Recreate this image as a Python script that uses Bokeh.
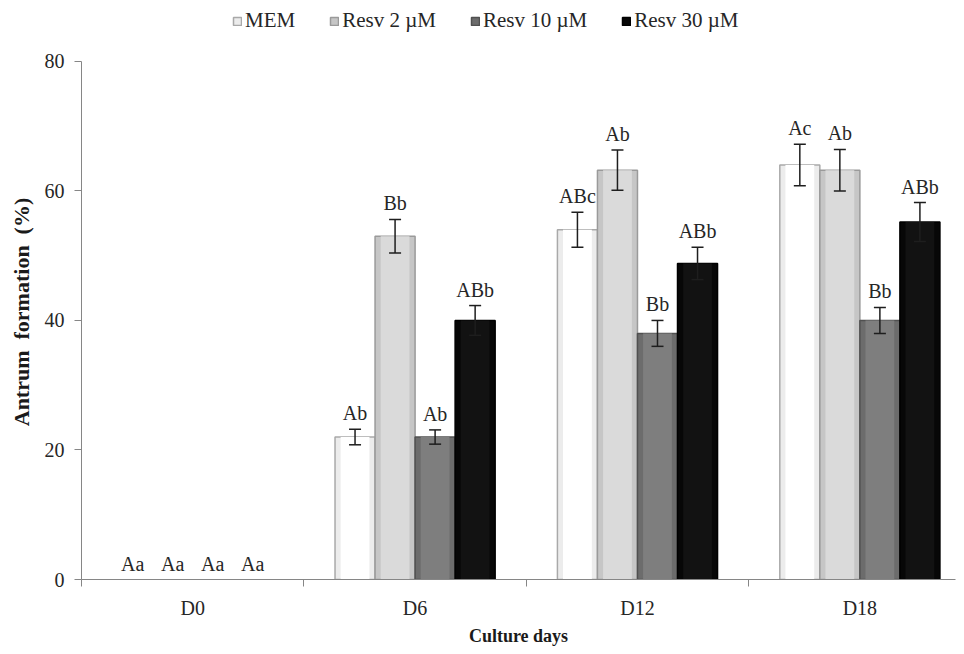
from bokeh.plotting import figure
from bokeh.models import (ColumnDataSource, Whisker, TeeHead, FixedTicker,
                          Legend, LegendItem, Range1d)
from bokeh.embed import file_html
from bokeh.resources import INLINE
from bokeh.core.properties import value

# ---------------- data ----------------
days = ["D0", "D6", "D12", "D18"]
series = ["MEM", "Resv 2 µM", "Resv 10 µM", "Resv 30 µM"]

mem = [0, 22.0, 54.0, 64.0]
resv2 = [0, 53.0, 63.2, 63.2]
resv10 = [0, 22.0, 38.0, 40.0]
resv30 = [0, 40.0, 48.8, 55.2]

mem_err = [0, 1.2, 2.7, 3.2]
resv2_err = [0, 2.6, 3.1, 3.2]
resv10_err = [0, 1.1, 2.0, 2.0]
resv30_err = [0, 2.3, 2.5, 3.0]

mem_lab = ["Aa", "Ab", "ABc", "Ac"]
resv2_lab = ["Aa", "Bb", "Ab", "Ab"]
resv10_lab = ["Aa", "Ab", "Bb", "Bb"]
resv30_lab = ["Aa", "ABb", "ABb", "ABb"]

y_ticks = [0, 20, 40, 60, 80]

values = [mem, resv2, resv10, resv30]
errors = [mem_err, resv2_err, resv10_err, resv30_err]
letters = [mem_lab, resv2_lab, resv10_lab, resv30_lab]

# ---------------- styles ----------------
SERIF = "Liberation Serif"
offsets = [-0.27, -0.09, 0.09, 0.27]
bar_w = 0.18
shades = [  # edge, body, centre
    ("#a9a9a9", "#ececec", "#ffffff"),
    ("#9a9a9a", "#c6c6c6", "#dadada"),
    ("#505050", "#6c6c6c", "#7e7e7e"),
    ("#000000", "#070707", "#121212"),
]

# frame spans the full canvas height above the x axis; the y axis line is
# bounded to 0..80 so the space above 80 holds the legend
p = figure(width=956, height=648, output_backend="svg", toolbar_location=None,
           x_range=Range1d(0, 3.93), y_range=Range1d(0, 80 * 580 / 519),
           min_border_left=81, min_border_right=1, min_border_top=0,
           min_border_bottom=68)
p.outline_line_color = None
p.xgrid.visible = False
p.ygrid.visible = False
p.background_fill_color = "white"

centers = [i + 0.5 for i in range(len(days))]
legend_items = []
for k, name in enumerate(series):
    xs = [c + offsets[k] for c in centers]
    src = ColumnDataSource(dict(
        x=xs, top=values[k], err=errors[k],
        upper=[v + e for v, e in zip(values[k], errors[k])],
        lower=[v - e for v, e in zip(values[k], errors[k])],
        lab=letters[k],
        edge_alpha=[1.0 if v > 0 else 0.0 for v in values[k]],
    ))
    edge, body, centre = shades[k]
    r = p.vbar(x="x", top="top", bottom=0, width=bar_w, source=src,
               fill_color=body, line_color=edge, line_width=1.5,
               line_alpha="edge_alpha")
    p.vbar(x="x", top="top", bottom=0, width=bar_w * 0.72, source=src,
           fill_color=centre, line_color=None)
    # legend swatch drawn from a non-zero row so its outline shows
    legend_items.append(LegendItem(label=name, renderers=[r], index=1))

    # error bars (only where an error exists)
    idx = [i for i, e in enumerate(errors[k]) if e > 0]
    esrc = ColumnDataSource(dict(
        x=[xs[i] for i in idx],
        upper=[values[k][i] + errors[k][i] for i in idx],
        lower=[values[k][i] - errors[k][i] for i in idx],
    ))
    w = Whisker(base="x", upper="upper", lower="lower", source=esrc,
                line_color="#1e1e1e", line_width=1.5, level="overlay",
                upper_head=TeeHead(size=12, line_color="#1e1e1e", line_width=1.5),
                lower_head=TeeHead(size=12, line_color="#1e1e1e", line_width=1.5))
    p.add_layout(w)

    # significance letters
    p.text(x="x", y="upper", text="lab", source=src,
           text_align="center", text_baseline="bottom", y_offset=-5,
           text_font=value(SERIF), text_font_size="20px", text_color="#262626")

# ---------------- axes ----------------
xa = p.xaxis[0]
xa.ticker = FixedTicker(ticks=centers, minor_ticks=[0, 1, 2, 3])
xa.major_label_overrides = {c: d for c, d in zip(centers, days)}
xa.major_tick_out = 0
xa.major_tick_in = 0
xa.minor_tick_out = 7
xa.minor_tick_in = 0
xa.minor_tick_line_color = "#868686"
xa.axis_line_color = "#868686"
xa.major_label_text_font = SERIF
xa.major_label_text_font_size = "20px"
xa.major_label_text_color = "#262626"
xa.major_label_standoff = 10
xa.axis_label = "Culture days"
xa.axis_label_text_font = SERIF
xa.axis_label_text_font_style = "bold"
xa.axis_label_text_font_size = "18px"
xa.axis_label_text_color = "#1a1a1a"
xa.axis_label_standoff = 4

ya = p.yaxis[0]
ya.ticker = FixedTicker(ticks=y_ticks)
ya.bounds = (0, 80)
ya.major_tick_out = 7
ya.major_tick_in = 0
ya.minor_tick_out = 0
ya.minor_tick_in = 0
ya.major_tick_line_color = "#868686"
ya.axis_line_color = "#868686"
ya.major_label_text_font = SERIF
ya.major_label_text_font_size = "20px"
ya.major_label_text_color = "#262626"
ya.major_label_standoff = 10
# trailing no-break spaces keep the title centred on the 0..80 span
ya.axis_label = "Antrum\u00a0 formation\u00a0 (%)" + "\u00a0" * 8
ya.axis_label_text_font = SERIF
ya.axis_label_text_font_style = "bold"
ya.axis_label_text_font_size = "22px"
ya.axis_label_text_color = "#1a1a1a"
ya.axis_label_standoff = 8

# ---------------- legend ----------------
legend = Legend(items=legend_items, orientation="horizontal",
                location=(151, 546), padding=0, margin=0, spacing=34,
                glyph_width=10, glyph_height=10, label_standoff=3,
                label_text_font=SERIF, label_text_font_size="21px",
                label_text_color="#262626", border_line_color=None,
                background_fill_alpha=0)
p.add_layout(legend, "center")

open("out.html", "w").write(file_html(p, INLINE))
